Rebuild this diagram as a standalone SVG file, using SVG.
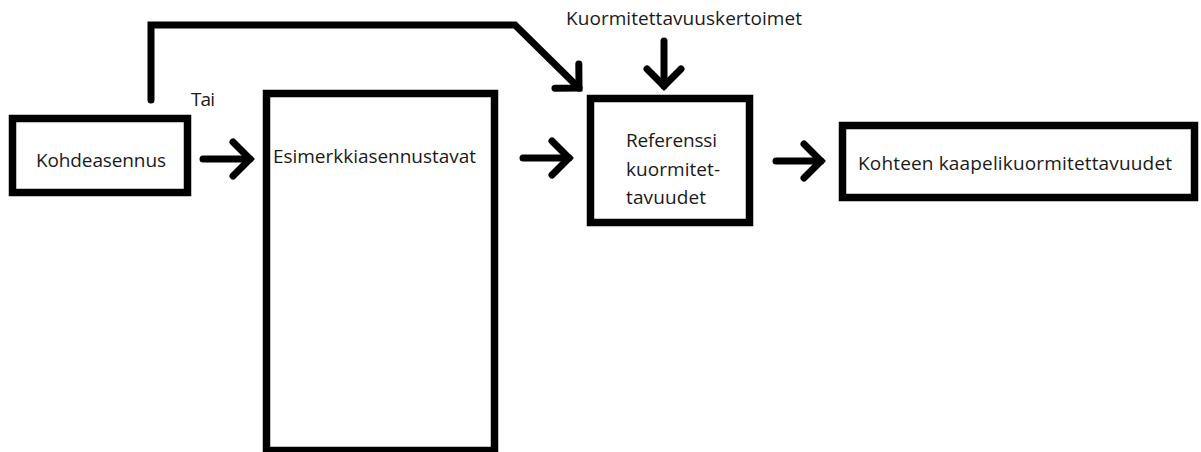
<svg xmlns="http://www.w3.org/2000/svg" width="1201" height="452" viewBox="0 0 1201 452">
<style>
.box{fill:#fff;stroke:#000;stroke-width:7.5}
.lbl{font-family:"Open Sans","Noto Sans","DejaVu Sans",sans-serif;font-size:19px;fill:#1a1a1a}
.con{fill:none;stroke:#000;stroke-width:7;stroke-linecap:round;stroke-linejoin:miter}
</style>
<defs>
<marker id="chev" viewBox="-24 -24 30 48" markerWidth="30" markerHeight="48" refX="0" refY="0" orient="auto" markerUnits="userSpaceOnUse">
<path d="M-17 -17 L0 0 L-17 17" fill="none" stroke="#000" stroke-width="7" stroke-linecap="round" stroke-linejoin="miter"/>
</marker>
</defs>
<rect width="1201" height="452" fill="#fff"/>
<g id="connectors">
<path class="con" d="M151 100 L151 25 L515 25 L579 88" marker-end="url(#chev)"/>
<path class="con" d="M203 159 L250 159" marker-end="url(#chev)"/>
<path class="con" d="M523 158 L569 158" marker-end="url(#chev)"/>
<path class="con" d="M776 161 L821 161" marker-end="url(#chev)"/>
<path class="con" d="M664 41 L664 86" marker-end="url(#chev)"/>
</g>
<g id="label-tai"><text class="lbl" x="191" y="106" textLength="24">Tai</text></g>
<g id="label-kertoimet"><text class="lbl" x="566" y="25" textLength="236">Kuormitettavuuskertoimet</text></g>
<g id="node-kohdeasennus">
<rect class="box" x="12.5" y="118.5" width="175" height="74"/>
<text class="lbl" x="36" y="167" textLength="130">Kohdeasennus</text>
</g>
<g id="node-esimerkki">
<rect class="box" x="266.5" y="93.5" width="228" height="357"/>
<text class="lbl" x="273" y="163" textLength="203">Esimerkkiasennustavat</text>
</g>
<g id="node-referenssi">
<rect class="box" x="590.5" y="98.5" width="159" height="124"/>
<text class="lbl" x="626" y="147" textLength="91">Referenssi</text>
<text class="lbl" x="626" y="176" textLength="94">kuormitet-</text>
<text class="lbl" x="626" y="204" textLength="80">tavuudet</text>
</g>
<g id="node-kohteen">
<rect class="box" x="842.5" y="125.5" width="352" height="72"/>
<text class="lbl" x="858" y="170" textLength="314">Kohteen kaapelikuormitettavuudet</text>
</g>
</svg>
